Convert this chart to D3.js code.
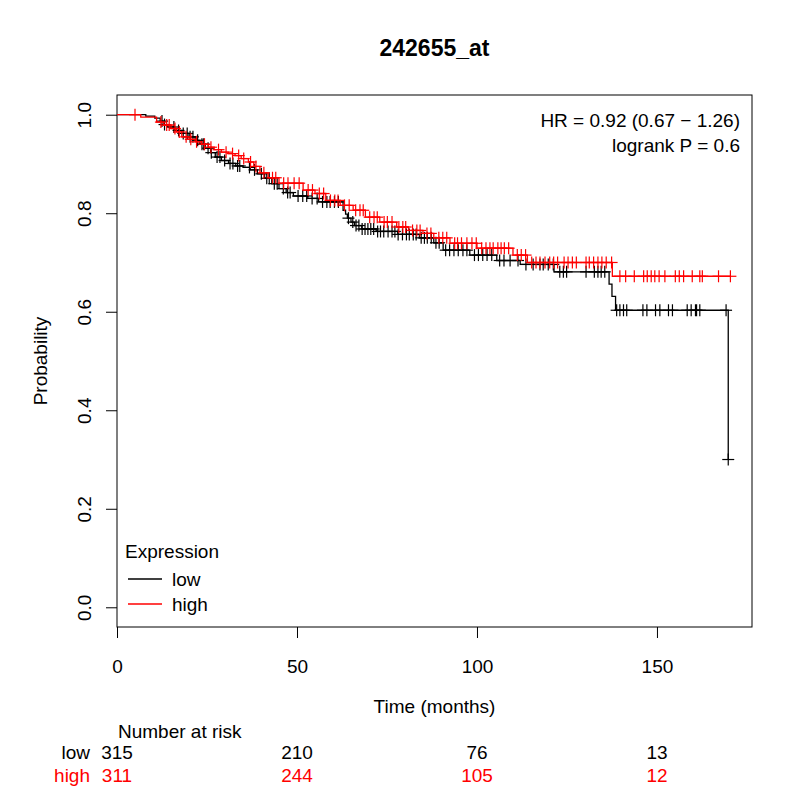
<!DOCTYPE html>
<html><head><meta charset="utf-8">
<script src="https://cdn.jsdelivr.net/npm/d3@7"></script>
<style>
body{margin:0;background:#fff;}
text{font-family:"Liberation Sans",Arial,Helvetica,sans-serif;}
</style></head>
<body><svg id="c" width="800" height="800"></svg>
<script>
const title = "242655_at";
const xTicks = [0, 50, 100, 150];
const yTicks = [0, 0.2, 0.4, 0.6, 0.8, 1.0];
const groups = ["low", "high"];
const groupColors = ["#000000", "#ff0000"];
const lowSteps = [[0,1.0],[8,0.997],[10.5,0.993],[12,0.987],[13,0.980],[14,0.975],[16,0.968],[18,0.962],[20,0.955],[21.7,0.948],[23,0.940],[24.5,0.932],[26,0.923],[27.3,0.914],[29,0.907],[31,0.901],[33,0.896],[35,0.893],[37,0.888],[39,0.880],[41,0.871],[43,0.860],[45,0.850],[47,0.842],[49,0.835],[53,0.830],[56,0.823],[62.8,0.806],[63.5,0.798],[64,0.790],[65,0.782],[66,0.775],[68,0.768],[72,0.763],[78,0.757],[84,0.750],[88,0.740],[90.6,0.725],[98,0.715],[105.5,0.704],[112,0.696],[121.4,0.681],[136.7,0.656],[137.5,0.631],[138.5,0.603],[169.8,0.30]];
const lowEnd = 169.8;
const lowCensor = [12.5,13.2,15.8,17.1,18.4,19.5,20.3,21.1,22.4,23.6,24.1,25.3,26.2,27.8,28.6,29.9,31.4,32.2,33.5,34.1,36.8,38.2,40.1,41.6,42.3,43.7,44.5,46.2,47.4,48.1,50.3,51.6,52.7,54.2,55.6,57.1,58.3,59.2,60.4,61.5,64.3,65.5,66.4,67.2,68.1,68.9,69.7,70.5,71.3,72.4,73.2,74.1,75.3,76.4,77.2,78.1,79.3,80.4,81.2,82.3,83.1,84.5,85.4,86.2,87.3,88.6,89.5,91.3,92.4,93.6,94.8,96.1,97.2,99.3,100.4,101.6,102.8,104.1,106.3,107.5,109.2,111.4,113.6,115.6,117.5,118.4,119.8,121.2,123,124,124.9,130.3,132.6,133.6,134.5,135.5,138.8,139.7,140.7,141.6,146.1,147.2,149.6,150.8,153.2,154.3,158.4,159.5,160.7,161.0,161.9,169.2,169.8];
const highSteps = [[0,1.0],[6.6,0.995],[11,0.985],[13,0.979],[15,0.972],[16.5,0.965],[18,0.955],[20,0.950],[21.7,0.945],[23.5,0.940],[25.4,0.934],[27,0.929],[29,0.924],[31,0.921],[32.8,0.917],[34.5,0.911],[36.5,0.904],[38,0.895],[39.7,0.882],[42,0.872],[45,0.861],[51.7,0.847],[55,0.840],[58,0.826],[62,0.816],[65.6,0.806],[69,0.792],[73,0.782],[77.7,0.772],[81,0.765],[85,0.759],[88,0.750],[92.5,0.739],[100,0.729],[110,0.715],[114,0.700],[137.6,0.672]];
const highEnd = 170.4;
const highCensor = [5,12.2,13.8,14.5,16.1,17.3,19.2,20.5,22.1,24.3,26.1,28.2,30.3,32.1,33.8,35.2,37.1,38.6,40.8,43.2,44.1,46.3,47.5,49.2,50.6,53.1,54.3,56.2,57.4,59.3,60.5,61.4,63.2,64.5,66.3,67.5,68.4,70.2,71.4,72.3,74.2,75.1,76.4,78.3,79.4,80.2,82.1,83.3,84.2,86.1,87.2,89.4,90.5,91.6,93.8,94.6,95.7,97.2,98.6,99.8,101.3,102.5,103.6,104.5,105.8,106.7,107.6,108.8,111.2,112.3,113.5,115.2,116.4,117.5,118.9,120.2,121.3,122.4,124.2,125.3,126.5,127.6,130.3,131.2,132.4,133.6,134.7,135.9,137.4,139.7,141.3,143.7,146.3,147.3,148.4,149.4,150.6,152.2,155.1,156.2,157.4,159.8,161.9,162.6,167.1,170.4];
const riskTimes = [0, 50, 100, 150];
const riskLow = [315, 210, 76, 13];
const riskHigh = [311, 244, 105, 12];
const hrText = ["HR = 0.92 (0.67 \u2212 1.26)", "logrank P = 0.6"];

const svg = d3.select("#c");
const FS = 19;
const L = 117, R = 752, T = 95, B = 627;
const x = d3.scaleLinear().domain([0, 176.4]).range([L, R]);
const y = d3.scaleLinear().domain([-0.04, 1.04]).range([B, T]);

svg.append("text").attr("x", (L+R)/2).attr("y", 48).attr("text-anchor","middle")
  .attr("dominant-baseline","central").attr("font-weight","bold").attr("font-size",23).text(title);

// axes
const xa = svg.append("g").attr("transform",`translate(0,${B})`)
  .call(d3.axisBottom(x).tickValues(xTicks).tickSize(11).tickPadding(22).tickFormat(d3.format("d")));
xa.select(".domain").remove();
xa.selectAll("line").attr("stroke","#000");
xa.selectAll("text").attr("font-size",FS).attr("fill","#000").attr("font-family","Liberation Sans, Arial, sans-serif");

const ya = svg.append("g").attr("transform",`translate(${L},0)`)
  .call(d3.axisLeft(y).tickValues(yTicks).tickSize(11).tickFormat(d3.format(".1f")));
ya.select(".domain").remove();
ya.selectAll("line").attr("stroke","#000");
ya.selectAll("text").attr("font-size",FS).attr("fill","#000").attr("font-family","Liberation Sans, Arial, sans-serif")
  .attr("x",null).attr("dy",null).attr("text-anchor","middle").attr("dominant-baseline","central")
  .attr("transform","translate(-33,0) rotate(-90)");

svg.append("rect").attr("x",L).attr("y",T).attr("width",R-L).attr("height",B-T)
  .attr("fill","none").attr("stroke","#000").attr("stroke-width",1);

svg.append("text").attr("transform",`translate(40,${(T+B)/2}) rotate(-90)`).attr("text-anchor","middle")
  .attr("dominant-baseline","central").attr("font-size",FS).text("Probability");
svg.append("text").attr("x",(L+R)/2).attr("y",706).attr("text-anchor","middle")
  .attr("dominant-baseline","central").attr("font-size",FS).text("Time (months)");

// curves
function survAt(steps, t){ let s = steps[0][1]; for (const st of steps){ if (st[0] <= t) s = st[1]; } return s; }
const line = d3.line().x(d=>x(d[0])).y(d=>y(d[1])).curve(d3.curveStepAfter);
const data = [
  {steps: lowSteps, end: lowEnd, cens: lowCensor, color: groupColors[0]},
  {steps: highSteps, end: highEnd, cens: highCensor, color: groupColors[1]}
];
data.forEach(g=>{
  const pts = g.steps.concat([[g.end, g.steps[g.steps.length-1][1]]]);
  svg.append("path").attr("d", line(pts)).attr("fill","none").attr("stroke",g.color).attr("stroke-width",1.3);
  const cg = svg.append("g").attr("stroke",g.color).attr("stroke-width",1.2);
  g.cens.forEach(t=>{
    const cx = x(t), cy = y(survAt(g.steps, t));
    cg.append("line").attr("x1",cx).attr("x2",cx).attr("y1",cy-6).attr("y2",cy+6);
    cg.append("line").attr("x1",cx-6).attr("x2",cx+6).attr("y1",cy).attr("y2",cy);
  });
});

// HR text
hrText.forEach((t,i)=>{
  svg.append("text").attr("x",740).attr("y",120+i*25).attr("text-anchor","end")
    .attr("dominant-baseline","central").attr("font-size",FS).text(t);
});

// legend
svg.append("text").attr("x",125).attr("y",551).attr("dominant-baseline","central").attr("font-size",FS).text("Expression");
groups.forEach((gname,i)=>{
  const ly = 579 + i*25;
  svg.append("line").attr("x1",128).attr("x2",162).attr("y1",ly).attr("y2",ly).attr("stroke",groupColors[i]).attr("stroke-width",1.3);
  svg.append("text").attr("x",172).attr("y",ly).attr("dominant-baseline","central").attr("font-size",FS).text(gname);
});

// number at risk
svg.append("text").attr("x",118).attr("y",731).attr("dominant-baseline","central").attr("font-size",FS).text("Number at risk");
[riskLow, riskHigh].forEach((row,i)=>{
  const ry = 752 + i*23;
  svg.append("text").attr("x",90).attr("y",ry).attr("text-anchor","end").attr("dominant-baseline","central")
    .attr("font-size",FS).attr("fill",groupColors[i]).text(groups[i]);
  row.forEach((v,j)=>{
    svg.append("text").attr("x",x(riskTimes[j])).attr("y",ry).attr("text-anchor","middle").attr("dominant-baseline","central")
      .attr("font-size",FS).attr("fill",groupColors[i]).text(v);
  });
});
</script></body></html>
